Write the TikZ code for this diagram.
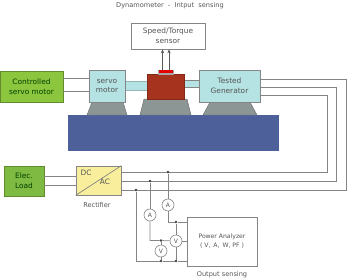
\documentclass[tikz,border=0pt]{standalone}
\usepackage{fontspec}
\setmainfont{DejaVu Sans}
\usetikzlibrary{arrows.meta,calc}
\definecolor{wire}{HTML}{858585}
\definecolor{grn}{HTML}{8CC63F}
\definecolor{grn2}{HTML}{7FBA42}
\definecolor{teal1}{HTML}{B5E2E2}
\definecolor{steel}{HTML}{8B9695}
\definecolor{bluebase}{HTML}{4E6099}
\definecolor{brick}{HTML}{A5331E}
\definecolor{lab}{HTML}{555555}
\definecolor{rectyellow}{HTML}{F8EE9C}
\tikzset{
  x=1pt,y=-1pt,
  wireline/.style={draw=wire,line width=0.7pt},
  box/.style={rectangle,inner sep=0pt,align=center,font=\fontsize{7.4}{9.6}\selectfont,text=lab},
  greenbox/.style={box,draw=grn!70!black,fill=grn,line width=0.7pt,text=green!25!black},
  tealbox/.style={box,draw=wire,fill=teal1,line width=0.7pt},
  plainbox/.style={box,draw=wire,fill=white,line width=0.7pt},
  caption/.style={inner sep=0pt,font=\fontsize{6.6}{8}\selectfont,text=lab},
  meter/.style={circle,draw=wire,fill=white,line width=0.6pt,minimum size=12pt,inner sep=0pt,font=\fontsize{6}{6}\selectfont,text=lab},
  joint/.style={circle,fill=black!75,minimum size=2.6pt,inner sep=0pt},
  pedestal/.style={fill=steel,draw=wire!80!black,line width=0.4pt},
  sensetip/.style={-{Stealth[length=4pt,width=3.4pt]},draw=black!65,line width=0.6pt}
}
\begin{document}
\begin{tikzpicture}
\useasboundingbox (0,0) rectangle (352,278);

% bench with its three pedestals
\node[rectangle,fill=bluebase,minimum width=211pt,minimum height=36pt,inner sep=0pt] (bench) at (173.5,133) {};
\path[pedestal] (87,115) -- (92,102) -- (123,102) -- (127,115) -- cycle;
\path[pedestal] (140,115) -- (144,99) -- (187,99) -- (191,115) -- cycle;
\path[pedestal] (203,115) -- (210,102) -- (250,102) -- (257,115) -- cycle;

% shafts, drawn first so that the machines cover their ends
\node[tealbox,draw=teal1!80!black,minimum width=24pt,minimum height=9pt] (shaftL) at (136,85.5) {};
\node[tealbox,minimum width=19pt,minimum height=7pt] (shaftR) at (192,84) {};

% machines
\node[rectangle,fill=brick,draw=brick!80!black,line width=0.4pt,minimum width=37pt,minimum height=25pt,inner sep=0pt] (torque) at (165.5,86.5) {};
\node[rectangle,fill=black!35,minimum width=16pt,minimum height=5pt,inner sep=0pt] (collar) at (166,72) {};
\node[rectangle,fill=red!90!black,minimum width=14pt,minimum height=2.6pt,inner sep=0pt] (marker) at (166,71.6) {};
\node[tealbox,minimum width=36pt,minimum height=32pt] (servo) at (107,86) {servo\\motor};
\node[tealbox,minimum width=61pt,minimum height=32pt] (gen) at (229.5,86) {Tested\\Generator};
\node[greenbox,minimum width=63pt,minimum height=31pt] (ctrl) at (31.5,86.5) {Controlled\\servo motor};

% sensor
\node[plainbox,minimum width=74pt,minimum height=26pt] (sensor) at (168,36) {Speed/Torque\\sensor};
\node[caption] (title) at (170,6) {Dynamometer \ - \ Intput \ sensing};
\coordinate (tipA) at (162.5,70);
\coordinate (tipB) at (169,70);
\draw[sensetip] (tipA) -- (tipA |- sensor.south);
\draw[sensetip] (tipB) -- (tipB |- sensor.south);

% lower row
\node[greenbox,fill=grn2,minimum width=40pt,minimum height=30pt] (load) at (24,181) {Elec.\\Load};
\node[box,draw=wire,fill=rectyellow,line width=0.7pt,minimum width=45pt,minimum height=29pt] (rect) at (98.5,180.5) {};
\draw[wire,line width=0.7pt] (rect.south west) -- (rect.north east);
\node[box] (dc) at (86,172.5) {DC};
\node[box] (ac) at (105,182) {AC};
\node[caption] (rlabel) at (97,205) {Rectifier};
\node[plainbox,minimum width=70pt,minimum height=49pt,font=\fontsize{6.1}{9}\selectfont] (pa) at (222,241.5) {Power Analyzer\\( V, \,A, \,W, PF )};
\node[caption] (olabel) at (222,275) {Output sensing};

% drive wiring
\draw[wireline] (ctrl.east |- 0,78.5) -- (servo.west |- 0,78.5);
\draw[wireline] (ctrl.east |- 0,91) -- (servo.west |- 0,91);
\draw[wireline] (load.east |- 0,176) -- (rect.west |- 0,176);
\draw[wireline] (load.east |- 0,185.5) -- (rect.west |- 0,185.5);

% three phase lines from the generator round to the rectifier
\draw[wireline] (gen.east |- 0,79) -- (346,79) -- (346,190) -- (rect.east |- 0,190);
\draw[wireline] (gen.east |- 0,87) -- (336,87) -- (336,181) -- (rect.east |- 0,181);
\draw[wireline] (gen.east |- 0,95) -- (327,95) -- (327,172) -- (rect.east |- 0,172);

% metering
\node[joint] (j1) at (168,172) {};
\node[joint] (j2) at (150,181) {};
\node[joint] (j3) at (136,190) {};
\node[joint] (j4) at (176,222) {};
\node[joint] (j5) at (161,240.5) {};
\node[joint] (j6) at (161,261) {};
\node[joint] (j7) at (176,261) {};
\node[meter] (a1) at (168,205) {A};
\node[meter] (a2) at (150,215) {A};
\node[meter] (v1) at (176,241) {V};
\node[meter] (v2) at (161,251) {V};
\draw[wireline] (j1) -- (a1);
\draw[wireline] (j2) -- (a2);
\draw[wireline] (a1) -- (168,222) -- (j4) -- (pa.west |- j4);
\draw[wireline] (a2) -- (150,240.5) -- (j5) -- (v1);
\draw[wireline] (j4) -- (v1);
\draw[wireline] (v1) -- (j7);
\draw[wireline] (v1) -- (pa.west |- v1);
\draw[wireline] (j5) -- (v2);
\draw[wireline] (v2) -- (j6);
\draw[wireline] (j3) -- (136,261) -- (j6) -- (j7) -- (pa.west |- j7);
\end{tikzpicture}
\end{document}
